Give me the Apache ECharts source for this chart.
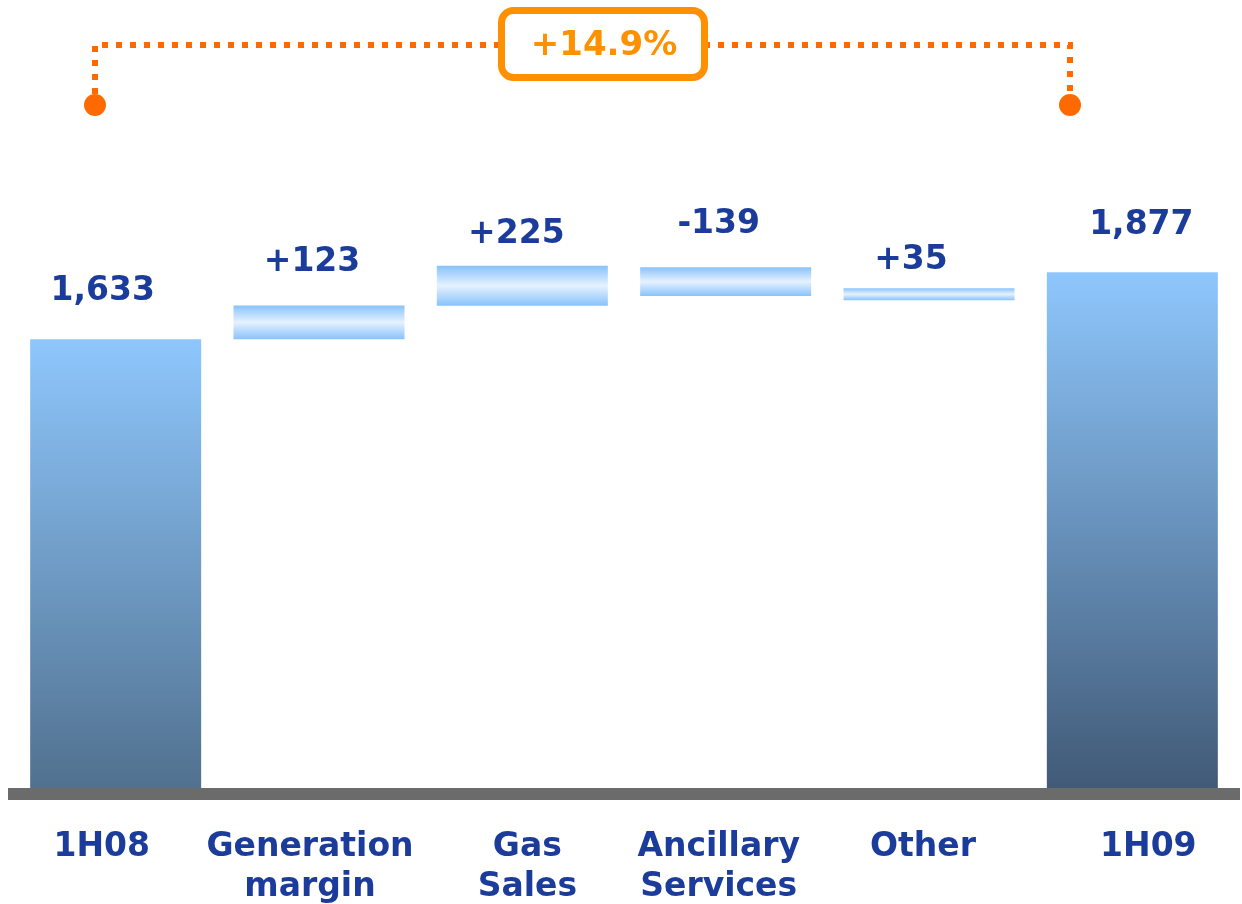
<!DOCTYPE html>
<html>
<head>
<meta charset="utf-8">
<script src="https://cdn.jsdelivr.net/npm/echarts@6/dist/echarts.min.js"></script>
<style>
  html, body { margin: 0; padding: 0; background: #fff; }
  #main { width: 1242px; height: 904px; }
</style>
</head>
<body>
<div id="main"></div>
<script>
// categories and printed values
const categories = ['1H08', 'Generation\nmargin', 'Gas\nSales', 'Ancillary\nServices', 'Other', '1H09']
const valueLabels = ['1,633', '+123', '+225', '-139', '+35', '1,877']
// bar extents as drawn in the picture (the floating bars are not to scale there)
const barBase = [0, 1633, 1755, 1790, 1775, 0]
const barSize = [1633, 123, 145, 105, 44, 1877]
const growthText = '+14.9%'

const BLUE = '#1b3c9b'
const FONT = 'DejaVu Sans'

// little nudges so labels sit where they do in the slide
const labelShift = [[-13, 31], [-7, 27], [-6, 15], [-7, 26], [-18, 11], [9, 30]]
const catShift = [-14, -9, 5, -7, -6, 16]

function totalColor (bottom) {
  return new echarts.graphic.LinearGradient(0, 0, 0, 1, [
    { offset: 0, color: '#8ec7fd' },
    { offset: 1, color: bottom }
  ])
}
const floatColor = new echarts.graphic.LinearGradient(0, 0, 0, 1, [
  { offset: 0, color: '#88c2fb' },
  { offset: 0.5, color: '#e6f2ff' },
  { offset: 1, color: '#88c2fb' }
])

const rich = {}
catShift.forEach((s, i) => {
  rich['c' + i] = {
    fontFamily: FONT,
    fontWeight: 'bold',
    fontSize: 33,
    lineHeight: 40,
    color: BLUE,
    padding: s >= 0 ? [0, 0, 0, s * 2] : [0, -s * 2, 0, 0]
  }
})

const chart = echarts.init(document.getElementById('main'))
chart.setOption({
  animation: false,
  // axis band sits just under the bars, so the value axis starts a touch below zero
  grid: { left: 14, right: 8, top: 101, bottom: 110 },
  xAxis: {
    type: 'category',
    data: categories,
    axisLine: { onZero: false, lineStyle: { color: '#6b6b6b', width: 12, cap: 'square' } },
    axisTick: { show: false },
    axisLabel: {
      margin: 33,
      interval: 0,
      formatter: function (val, idx) {
        return val.split('\n').map(l => '{c' + idx + '|' + l + '}').join('\n')
      },
      rich: rich
    }
  },
  yAxis: {
    type: 'value',
    min: -22,
    max: 2500,
    show: false,
    splitLine: { show: false }
  },
  series: [
    {
      type: 'bar',
      stack: 'w',
      barWidth: 171,
      itemStyle: { color: 'rgba(0,0,0,0)' },
      emphasis: { disabled: true },
      data: barBase
    },
    {
      type: 'bar',
      stack: 'w',
      barWidth: 171,
      data: barSize.map((v, i) => ({
        value: v,
        itemStyle: {
          color: i === 0 ? totalColor('#51718f')
            : i === barSize.length - 1 ? totalColor('#415a77')
              : floatColor
        },
        label: {
          offset: [labelShift[i][0], 0],
          distance: labelShift[i][1]
        }
      })),
      label: {
        show: true,
        position: 'top',
        fontFamily: FONT,
        fontWeight: 'bold',
        fontSize: 33,
        color: BLUE,
        formatter: p => valueLabels[p.dataIndex]
      }
    }
  ],
  graphic: [
    {
      type: 'polyline',
      shape: { points: [[95, 94], [95, 45], [1070, 45], [1070, 94]] },
      style: { stroke: '#ff6a00', lineWidth: 6, lineDash: [6, 8], fill: null }
    },
    { type: 'circle', shape: { cx: 95, cy: 105, r: 11 }, style: { fill: '#ff6a00' } },
    { type: 'circle', shape: { cx: 1070, cy: 105, r: 11 }, style: { fill: '#ff6a00' } },
    {
      type: 'rect',
      shape: { x: 501.5, y: 10.5, width: 203, height: 67, r: 12 },
      style: { fill: '#fff', stroke: '#ff9100', lineWidth: 7 }
    },
    {
      type: 'text',
      x: 604,
      y: 46,
      style: {
        text: growthText,
        fill: '#ff9100',
        font: 'bold 34px "DejaVu Sans"',
        textAlign: 'center',
        textVerticalAlign: 'middle'
      }
    }
  ]
})
</script>
</body>
</html>
